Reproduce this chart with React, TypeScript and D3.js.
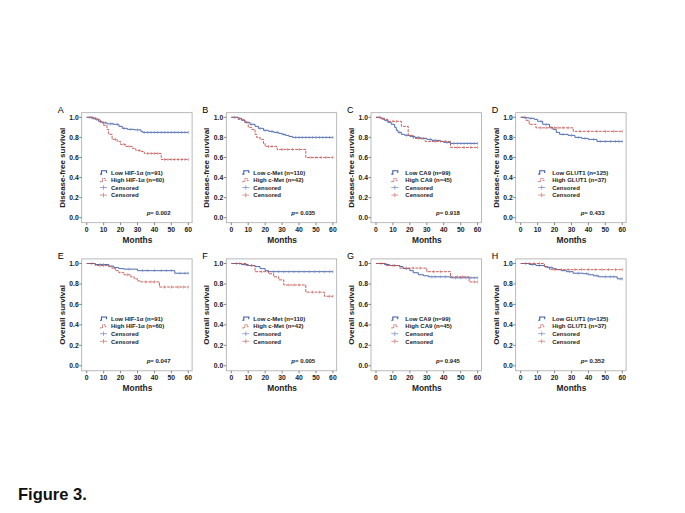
import * as d3 from "d3";

// ---- data ----
const months = [0, 10, 20, 30, 40, 50, 60];
const survTicks = [0, 0.2, 0.4, 0.6, 0.8, 1.0];

const panelLetters = ["A", "B", "C", "D", "E", "F", "G", "H"];
const rowTitles = ["Disease-free survival", "Overall survival"];
const lowLabels = ["Low HIF-1α (n=91)", "Low c-Met (n=110)", "Low CA9 (n=99)", "Low GLUT1 (n=125)"];
const highLabels = ["High HIF-1α (n=60)", "High c-Met (n=42)", "High CA9 (n=45)", "High GLUT1 (n=37)"];
const dfsP = ["0.002", "0.035", "0.918", "0.433"];
const osP = ["0.047", "0.005", "0.945", "0.352"];

// disease-free survival
const dfsHifLowT = [3, 5, 7, 9, 12, 16, 19, 21, 24, 28, 32, 33];
const dfsHifLowS = [0.99, 0.98, 0.96, 0.945, 0.935, 0.93, 0.91, 0.89, 0.88, 0.875, 0.86, 0.85];
const dfsHifLowC = [2, 4, 6, 8, 10, 11, 14, 15, 18, 22, 26, 30, 34, 36, 38, 40, 42, 44, 46, 48, 50, 52, 54, 56, 58, 60];
const dfsHifHighT = [5, 8, 10, 12, 13, 15, 18, 20, 23, 27, 29, 32, 34, 44];
const dfsHifHighS = [0.98, 0.95, 0.92, 0.88, 0.83, 0.78, 0.76, 0.73, 0.71, 0.69, 0.67, 0.66, 0.64, 0.58];
const dfsHifHighC = [3, 6, 17, 22, 25, 31, 36, 38, 40, 42, 46, 48, 50, 52, 54, 56, 58, 60];

const dfsMetLowT = [4, 6, 8, 11, 14, 16, 19, 22, 25, 28, 30, 32, 34, 36];
const dfsMetLowS = [0.99, 0.97, 0.95, 0.93, 0.91, 0.89, 0.87, 0.86, 0.85, 0.84, 0.83, 0.82, 0.81, 0.8];
const dfsMetLowC = [2, 5, 9, 12, 17, 20, 24, 27, 31, 38, 40, 42, 44, 46, 48, 50, 52, 54, 56, 58, 60];
const dfsMetHighT = [4, 8, 10, 12, 14, 15, 17, 19, 20, 27, 44];
const dfsMetHighS = [0.98, 0.95, 0.9, 0.88, 0.83, 0.8, 0.78, 0.74, 0.71, 0.68, 0.6];
const dfsMetHighC = [22, 24, 30, 33, 36, 40, 47, 50, 53, 56, 60];

const dfsCaLowT = [3, 5, 7, 9, 11, 12, 13, 15, 17, 20, 23, 26, 30, 33, 38, 40, 44];
const dfsCaLowS = [0.99, 0.97, 0.95, 0.93, 0.9, 0.87, 0.85, 0.83, 0.82, 0.81, 0.8, 0.79, 0.78, 0.77, 0.76, 0.75, 0.74];
const dfsCaLowC = [2, 6, 14, 18, 22, 25, 28, 32, 35, 42, 46, 48, 50, 52, 54, 56, 58, 60];
const dfsCaHighT = [3, 7, 15, 19, 22, 29, 44];
const dfsCaHighS = [0.98, 0.96, 0.91, 0.82, 0.79, 0.76, 0.7];
const dfsCaHighC = [10, 12, 25, 27, 35, 38, 41, 48, 52, 56, 60];

const dfsGluLowT = [3, 5, 8, 10, 13, 17, 19, 21, 23, 28, 32, 36, 40, 45];
const dfsGluLowS = [0.995, 0.99, 0.98, 0.96, 0.93, 0.9, 0.88, 0.85, 0.83, 0.82, 0.8, 0.79, 0.78, 0.76];
const dfsGluLowC = [2, 6, 12, 15, 25, 30, 34, 38, 43, 47, 50, 53, 56, 58, 60];
const dfsGluHighT = [3, 5, 9, 31];
const dfsGluHighS = [0.97, 0.93, 0.895, 0.86];
const dfsGluHighC = [12, 15, 18, 20, 22, 25, 28, 35, 40, 45, 50, 55, 60];

// overall survival
const osHifLowT = [5, 13, 16, 19, 22, 30, 52];
const osHifLowS = [0.99, 0.975, 0.96, 0.95, 0.945, 0.93, 0.905];
const osHifLowC = [3, 8, 10, 25, 33, 36, 40, 44, 47, 50, 55, 58, 60];
const osHifHighT = [5, 13, 15, 17, 19, 22, 26, 28, 30, 32, 43];
const osHifHighS = [0.98, 0.97, 0.95, 0.93, 0.91, 0.89, 0.87, 0.85, 0.83, 0.82, 0.77];
const osHifHighC = [8, 10, 24, 35, 38, 40, 46, 50, 54, 57, 60];

const osMetLowT = [6, 10, 14, 17, 20, 22];
const osMetLowS = [0.99, 0.98, 0.97, 0.95, 0.93, 0.92];
const osMetLowC = [3, 8, 12, 25, 28, 31, 34, 37, 40, 43, 46, 49, 52, 55, 58, 60];
const osMetHighT = [9, 14, 22, 25, 28, 31, 44, 55];
const osMetHighS = [0.98, 0.92, 0.9, 0.87, 0.84, 0.79, 0.72, 0.68];
const osMetHighC = [5, 12, 18, 34, 37, 40, 48, 52, 58, 60];

const osCaLowT = [5, 8, 14, 16, 20, 22, 25, 28, 31, 44];
const osCaLowS = [0.99, 0.98, 0.97, 0.95, 0.93, 0.91, 0.89, 0.88, 0.87, 0.86];
const osCaLowC = [3, 11, 18, 33, 35, 38, 41, 47, 50, 53, 56, 58, 60];
const osCaHighT = [6, 14, 30, 44, 55];
const osCaHighS = [0.98, 0.955, 0.92, 0.87, 0.82];
const osCaHighC = [10, 18, 22, 26, 34, 38, 48, 51, 58, 60];

const osGluLowT = [5, 9, 14, 16, 19, 21, 24, 27, 31, 37, 40, 43, 46, 57];
const osGluLowS = [0.99, 0.98, 0.97, 0.96, 0.95, 0.94, 0.93, 0.92, 0.905, 0.9, 0.89, 0.88, 0.87, 0.85];
const osGluLowC = [3, 7, 11, 18, 29, 34, 39, 45, 50, 53, 55, 59, 60];
const osGluHighT = [14, 17];
const osGluHighS = [0.965, 0.94];
const osGluHighC = [5, 8, 11, 20, 24, 28, 32, 36, 40, 44, 48, 52, 56, 60];

// ---- layout ----
const W = 685;
const H = 513;
const colX0 = [86.7, 231.3, 376, 520.7];
const plotW = 101.6;
const rowTop = [117.3, 263.5];
const rowBottom = [217.7, 365.8];
const legendOff = [13.3, 11, 15.3, 17.5];
const legendTextGap = [11, 11, 14, 14];

const BLUE = "#3b5ba5";
const RED = "#c0504d";
const BLUE_C = "#7f93c8";
const RED_C = "#cf7d7a";
const FONT = "'Liberation Sans', Arial, sans-serif";

type Curve = { t: number[]; s: number[]; c: number[] };
type Panel = { low: Curve; high: Curve; p: string };

const panels: Panel[] = [
  { low: { t: dfsHifLowT, s: dfsHifLowS, c: dfsHifLowC }, high: { t: dfsHifHighT, s: dfsHifHighS, c: dfsHifHighC }, p: dfsP[0] },
  { low: { t: dfsMetLowT, s: dfsMetLowS, c: dfsMetLowC }, high: { t: dfsMetHighT, s: dfsMetHighS, c: dfsMetHighC }, p: dfsP[1] },
  { low: { t: dfsCaLowT, s: dfsCaLowS, c: dfsCaLowC }, high: { t: dfsCaHighT, s: dfsCaHighS, c: dfsCaHighC }, p: dfsP[2] },
  { low: { t: dfsGluLowT, s: dfsGluLowS, c: dfsGluLowC }, high: { t: dfsGluHighT, s: dfsGluHighS, c: dfsGluHighC }, p: dfsP[3] },
  { low: { t: osHifLowT, s: osHifLowS, c: osHifLowC }, high: { t: osHifHighT, s: osHifHighS, c: osHifHighC }, p: osP[0] },
  { low: { t: osMetLowT, s: osMetLowS, c: osMetLowC }, high: { t: osMetHighT, s: osMetHighS, c: osMetHighC }, p: osP[1] },
  { low: { t: osCaLowT, s: osCaLowS, c: osCaLowC }, high: { t: osCaHighT, s: osCaHighS, c: osCaHighC }, p: osP[2] },
  { low: { t: osGluLowT, s: osGluLowS, c: osGluLowC }, high: { t: osGluHighT, s: osGluHighS, c: osGluHighC }, p: osP[3] },
];

// step points for a KM curve
function stepPoints(cv: Curve): [number, number][] {
  const pts: [number, number][] = [[0, 1]];
  cv.t.forEach((t, i) => pts.push([t, cv.s[i]]));
  pts.push([60, cv.s[cv.s.length - 1]]);
  return pts;
}

function survAt(cv: Curve, time: number) {
  let v = 1;
  cv.t.forEach((t, i) => {
    if (t <= time) v = cv.s[i];
  });
  return v;
}

function KMPanel({ idx }: { idx: number }) {
  const row = Math.floor(idx / 4);
  const col = idx % 4;
  const panel = panels[idx];
  const x0 = colX0[col];
  const x = d3.scaleLinear().domain([0, 60]).range([x0, x0 + plotW]);
  const y = d3.scaleLinear().domain([0, 1]).range([rowBottom[row], rowTop[row]]);

  const fl = x0 - 5;
  const fr = x0 + plotW + 3.8;
  const ft = rowTop[row] - 4.6;
  const fb = rowBottom[row] + 5;

  const line = d3
    .line<[number, number]>()
    .x((d) => x(d[0]))
    .y((d) => y(d[1]))
    .curve(d3.curveStepAfter);

  const lx = x0 + legendOff[col];
  const tx = lx + legendTextGap[col];
  const ly0 = rowTop[row] + 55;
  const lstep = 7.6;

  const curves: { cv: Curve; color: string; cc: string; dash?: string }[] = [
    { cv: panel.low, color: BLUE, cc: BLUE_C },
    { cv: panel.high, color: RED, cc: RED_C, dash: "3,1" },
  ];

  return (
    <g>
      <text x={x0 - 29} y={ft} fontSize={9} fontFamily={FONT}>
        {panelLetters[idx]}
      </text>
      <rect x={fl} y={ft} width={fr - fl} height={fb - ft} fill="none" stroke="#a8a8a8" strokeWidth={0.8} />
      {survTicks.map((v) => (
        <g key={"y" + v}>
          <line x1={fl - 2.5} x2={fl} y1={y(v)} y2={y(v)} stroke="#555" strokeWidth={0.7} />
          <text x={fl - 3} y={y(v) + 2.4} fontSize={6.8} fontWeight="bold" textAnchor="end" fontFamily={FONT} fill="#222">
            {v.toFixed(1)}
          </text>
        </g>
      ))}
      {months.map((m) => (
        <g key={"x" + m}>
          <line x1={x(m)} x2={x(m)} y1={fb} y2={fb + 2.5} stroke="#555" strokeWidth={0.7} />
          <text x={x(m)} y={fb + 9} fontSize={6.8} fontWeight="bold" textAnchor="middle" fontFamily={FONT} fill="#222">
            {m}
          </text>
        </g>
      ))}
      <text x={(x0 + x0 + plotW) / 2} y={fb + 20.5} fontSize={8.4} fontWeight="bold" textAnchor="middle" fontFamily={FONT} fill="#222">
        Months
      </text>
      <text
        transform={`translate(${x0 - 22},${(ft + fb) / 2}) rotate(-90)`}
        fontSize={8}
        fontWeight="bold"
        textAnchor="middle"
        fontFamily={FONT}
        fill="#222"
      >
        {rowTitles[row]}
      </text>
      {curves.map(({ cv, color, cc, dash }, k) => (
        <g key={"c" + k}>
          <path d={line(stepPoints(cv)) ?? ""} fill="none" stroke={color} strokeWidth={0.9} strokeDasharray={dash} />
          {cv.c.map((t, j) => (
            <line key={j} x1={x(t)} x2={x(t)} y1={y(survAt(cv, t)) - 1.5} y2={y(survAt(cv, t)) + 1.5} stroke={cc} strokeWidth={0.7} />
          ))}
        </g>
      ))}
      {/* legend */}
      <path
        d={`M${lx},${ly0 + 1.8} L${lx + 1.5},${ly0 + 1.8} L${lx + 1.5},${ly0 - 1.5} L${lx + 6.5},${ly0 - 1.5} L${lx + 6.5},${ly0 + 0.8}`}
        fill="none"
        stroke={BLUE}
        strokeWidth={1.1}
      />
      <path
        d={`M${lx},${ly0 + lstep + 1.8} L${lx + 2.5},${ly0 + lstep + 1.8} L${lx + 2.5},${ly0 + lstep - 1.3} L${lx + 5},${ly0 + lstep - 1.3} L${lx + 5},${ly0 + lstep + 0.6} L${lx + 6.5},${ly0 + lstep + 0.6}`}
        fill="none"
        stroke={RED}
        strokeWidth={0.9}
        strokeDasharray="1.6,0.8"
      />
      {[BLUE_C, RED_C].map((c, k) => {
        const yy = ly0 + lstep * (2 + k);
        return (
          <g key={"pl" + k}>
            <line x1={lx} x2={lx + 7} y1={yy} y2={yy} stroke={c} strokeWidth={0.8} />
            <line x1={lx + 3.5} x2={lx + 3.5} y1={yy - 2.2} y2={yy + 2.2} stroke={c} strokeWidth={0.8} />
          </g>
        );
      })}
      {[lowLabels[col], highLabels[col], "Censored", "Censored"].map((s, k) => (
        <text key={"lt" + k} x={tx} y={ly0 + lstep * k + 2.2} fontSize={6} fontWeight="bold" fontFamily={FONT} fill="#222">
          {s}
        </text>
      ))}
      <text x={x0 + 60} y={y(0.025)} fontSize={6} fontWeight="bold" fontFamily={FONT} fill="#222">
        <tspan fontStyle="italic">p</tspan>= {panel.p}
      </text>
    </g>
  );
}

export default function App() {
  return (
    <svg width={W} height={H} style={{ position: "absolute", left: 0, top: 0, background: "#fff" }}>
      <rect width={W} height={H} fill="#fff" />
      {panels.map((_, i) => (
        <KMPanel key={i} idx={i} />
      ))}
      <text x={18} y={500} fontSize={16.5} fontWeight="bold" fontFamily={FONT} fill="#111">
        Figure 3.
      </text>
    </svg>
  );
}
